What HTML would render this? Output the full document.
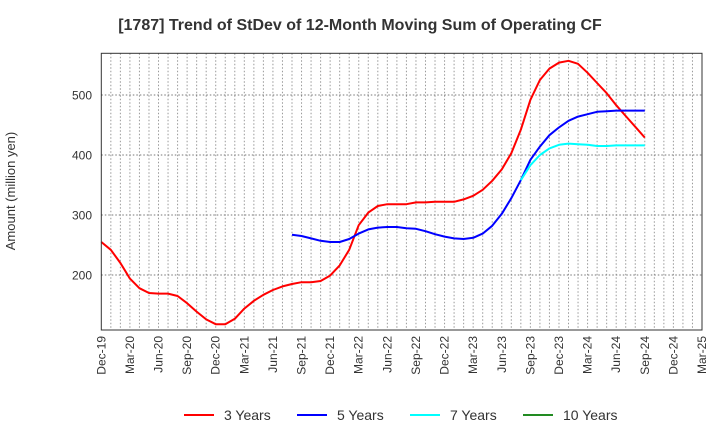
<!DOCTYPE html>
<html><head><meta charset="utf-8"><style>
body{margin:0;background:#fff;}
svg text{font-family:"Liberation Sans",sans-serif;}
</style></head><body>
<svg id="chart" width="720" height="440" xmlns="http://www.w3.org/2000/svg">
<text x="360" y="30" text-anchor="middle" font-size="16" font-weight="bold" fill="#333">[1787]  Trend of StDev of 12-Month Moving Sum of Operating CF</text>
<text transform="translate(15,191) rotate(-90)" text-anchor="middle" font-size="13" fill="#333">Amount (million yen)</text>
<g id="grid"></g>
<g id="series"></g>
<rect x="101.3" y="53.3" width="600.7" height="276.7" fill="none" stroke="#333" stroke-width="1"/>
<g id="axes"></g>
<g id="legend"></g>
</svg>
<script>
const xLabels=["Dec-19","Mar-20","Jun-20","Sep-20","Dec-20","Mar-21","Jun-21","Sep-21","Dec-21","Mar-22","Jun-22","Sep-22","Dec-22","Mar-23","Jun-23","Sep-23","Dec-23","Mar-24","Jun-24","Sep-24","Dec-24","Mar-25"];
const yTicks=[200,300,400,500];
const red=[255,242,220,194,178,170,169,169,165,153,139,126,118,118,127,144,157,167,175,181,185,188,188,190,199,216,242,283,304,315,318,318,318,321,321,322,322,322,326,332,342,357,376,403,442,492,525,544,554,557,552,537,520,503,483,465,447,429];
const blueStart=20;
const blue=[267,265,261,257,255,255,260,269,276,279,280,280,278,277,273,268,264,261,260,262,269,282,302,328,358,392,414,433,446,457,464,468,472,473,474,474,474,474];
const cyanStart=44;
const cyan=[358,383,400,411,417,419,418,417,415,415,416,416,416,416];
const green=[];
const X0=101.3,X1=702,Y0=53.3,Y1=330,NM=63;
const xs=m=>X0+(X1-X0)*m/NM;
const ys=v=>275-(v-200)*0.6;
const NS="http://www.w3.org/2000/svg";
function mk(t,a,p){const e=document.createElementNS(NS,t);for(const k in a)e.setAttribute(k,a[k]);p.appendChild(e);return e;}
const grid=document.getElementById('grid'),axes=document.getElementById('axes'),ser=document.getElementById('series'),leg=document.getElementById('legend');
for(let m=1;m<NM;m++){const l=mk('line',{x1:xs(m),x2:xs(m),y1:Y0,y2:Y1,stroke:'#999','stroke-dasharray':'1.5,2','stroke-width':1},grid);

}
yTicks.forEach(v=>{const l=mk('line',{x1:X0,x2:X1,y1:ys(v),y2:ys(v),stroke:'#777','stroke-dasharray':'1.5,2','stroke-width':1},grid);


const t=mk('text',{x:92,y:ys(v)+4.5,'text-anchor':'end','font-size':12,fill:'#333'},axes);t.textContent=v;

});
xLabels.forEach((s,i)=>{const x=xs(i*3);const t=mk('text',{transform:`translate(${x+4},336) rotate(-90)`,'text-anchor':'end','font-size':12,fill:'#333'},axes);t.textContent=s;

});
function line(arr,start,color,name){if(!arr.length)return;const d=arr.map((v,i)=>(i?'L':'M')+xs(start+i).toFixed(1)+','+ys(v).toFixed(1)).join('');
const p=mk('path',{d:d,fill:'none',stroke:color,'stroke-width':2,'stroke-linejoin':'round'},ser);

}
line(red,0,'#ff0000','series-3-years');
line(blue,blueStart,'#0000ff','series-5-years');
line(cyan,cyanStart,'#00ffff','series-7-years');
line(green,0,'#228b22','series-10-years');
[['3 Years','#ff0000',184],['5 Years','#0000ff',297],['7 Years','#00ffff',410],['10 Years','#228b22',523]].forEach(([n,c,x])=>{
const g=mk('g',{},leg);


mk('line',{x1:x,x2:x+30,y1:415,y2:415,stroke:c,'stroke-width':2},g);
const t=mk('text',{x:x+40,y:420,'font-size':14,fill:'#333'},g);t.textContent=n;});
</script>
</body></html>
